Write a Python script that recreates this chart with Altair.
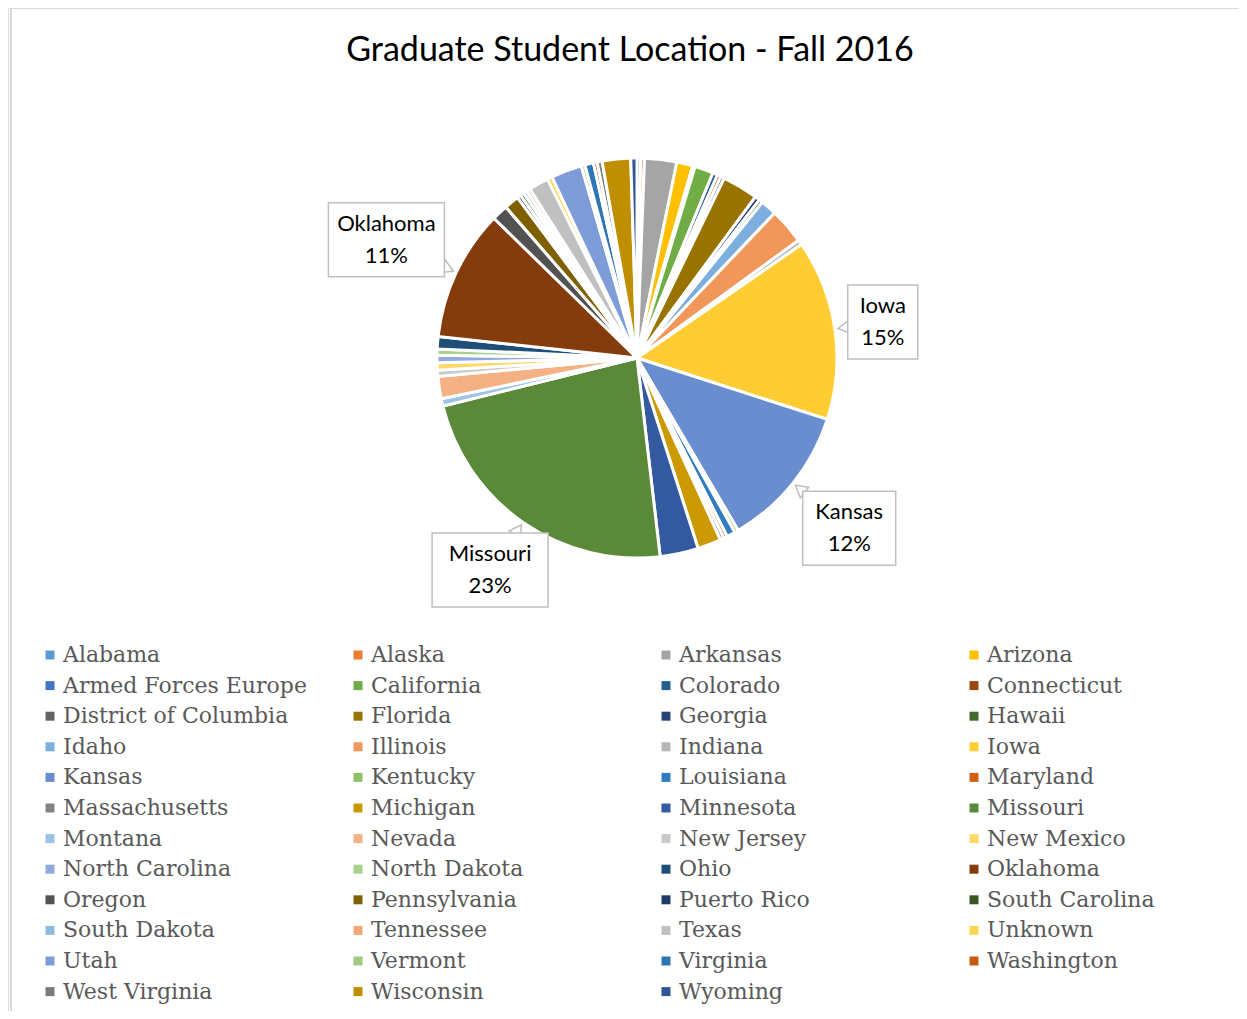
import altair as alt
import pandas as pd

states = ["Alabama", "Alaska", "Arkansas", "Arizona", "Armed Forces Europe", "California",
          "Colorado", "Connecticut", "District of Columbia", "Florida", "Georgia", "Hawaii",
          "Idaho", "Illinois", "Indiana", "Iowa", "Kansas", "Kentucky", "Louisiana", "Maryland",
          "Massachusetts", "Michigan", "Minnesota", "Missouri", "Montana", "Nevada", "New Jersey",
          "New Mexico", "North Carolina", "North Dakota", "Ohio", "Oklahoma", "Oregon",
          "Pennsylvania", "Puerto Rico", "South Carolina", "South Dakota", "Tennessee", "Texas",
          "Unknown", "Utah", "Vermont", "Virginia", "Washington", "West Virginia", "Wisconsin",
          "Wyoming"]
values = [0.3, 0.3, 2.6, 1.3, 0.2, 1.5,
          0.4, 0.3, 0.3, 2.9, 0.4, 0.3,
          1.3, 2.9, 0.4, 14.6, 11.6, 0.3, 0.7, 0.3,
          0.3, 1.9, 3.1, 23.0, 0.6, 1.8, 0.5,
          0.6, 0.6, 0.5, 1.0, 10.6, 1.3,
          1.2, 0.3, 0.3, 0.3, 0.3, 1.6,
          0.4, 2.5, 0.3, 0.7, 0.3, 0.4, 2.3,
          0.5]
colors = ["#5B9BD5", "#ED7D31", "#A5A5A5", "#FFC000", "#4472C4", "#70AD47",
          "#255E91", "#9E480E", "#636363", "#997300", "#264478", "#43682B",
          "#7CAFDD", "#F1975A", "#B7B7B7", "#FFCD33", "#698ED0", "#8CC168",
          "#327DC2", "#D26012", "#848484", "#CC9A00", "#335AA1", "#5A8A39",
          "#9DC3E6", "#F4B183", "#C9C9C9", "#FFD966", "#8FAADC", "#A9D18E",
          "#1F4E79", "#843C0C", "#525252", "#7F6000", "#203864", "#385723",
          "#8FBBE3", "#F3A574", "#C0C0C0", "#FFD54F", "#7E9CD8", "#9DCB7F",
          "#2E75B6", "#C55A11", "#7B7B7B", "#BF8F00", "#2F5597"]
title_text = "Graduate Student Location - Fall 2016"

df = pd.DataFrame({"state": states, "value": values, "idx": list(range(len(states)))})

CX, CY, R = 629, 350, 200
W, H = 1231, 1003

base = alt.Chart(df)

pie = base.mark_arc(outerRadius=R, stroke="white", strokeWidth=3).encode(
    theta=alt.Theta("value:Q", stack=True),
    color=alt.Color(
        "state:N",
        scale=alt.Scale(domain=states, range=colors),
        legend=alt.Legend(
            orient="none", legendX=31, legendY=636, direction="horizontal",
            columns=4, gridAlign="all", symbolLimit=0,
            columnPadding=40, rowPadding=8.6, symbolType="square", symbolSize=81,
            symbolStrokeWidth=0, labelFont="DejaVu Serif", labelFontSize=22,
            labelColor="#595959", labelOffset=2, labelLimit=400, title=None,
        ),
    ),
    order=alt.Order("idx:Q"),
    x=alt.value(CX),
    y=alt.value(CY),
)

lab = (
    base.transform_window(cum="sum(value)", sort=[{"field": "idx"}], frame=[None, 0])
    .transform_joinaggregate(total="sum(value)")
    .transform_calculate(
        mid="(datum.cum - datum.value/2)/datum.total*2*PI",
        pct="datum.value/datum.total",
    )
    .transform_filter("datum.pct >= 0.1")
    .transform_calculate(hw="(length(datum.state)*11.5 + 24)/2", hh="37")
    .transform_calculate(
        rr="213 + min(datum.hw/max(abs(sin(datum.mid)), 0.000001), "
           "datum.hh/max(abs(cos(datum.mid)), 0.000001))"
    )
    .transform_calculate(
        cx=f"{CX} + datum.rr*sin(datum.mid)",
        cy=f"{CY} - datum.rr*cos(datum.mid)",
        tx=f"{CX} + 209*sin(datum.mid)",
        ty=f"{CY} - 209*cos(datum.mid)",
        tang="datum.mid*180/PI + 180",
        label="[datum.state, format(datum.pct, '.0%')]",
    )
    .transform_calculate(
        bx1="datum.cx - datum.hw", bx2="datum.cx + datum.hw",
        by1="datum.cy - datum.hh", by2="datum.cy + datum.hh",
    )
)

tails = lab.mark_point(shape="triangle-up", filled=True, fill="white", stroke="#BFBFBF",
                       strokeWidth=1.5, size=180, opacity=1).encode(
    x=alt.X("tx:Q", scale=None), y=alt.Y("ty:Q", scale=None),
    angle=alt.Angle("tang:Q", scale=None),
)
boxes = lab.mark_rect(fill="white", stroke="#BFBFBF", strokeWidth=1.5).encode(
    x=alt.X("bx1:Q", scale=None), x2="bx2:Q",
    y=alt.Y("by1:Q", scale=None), y2="by2:Q",
)
texts = lab.mark_text(font="Lato", fontSize=22, lineHeight=32, color="#000000",
                      baseline="middle", align="center", dy=-16).encode(
    x=alt.X("cx:Q", scale=None), y=alt.Y("cy:Q", scale=None), text="label:N",
)

title = alt.Chart(pd.DataFrame({"t": [title_text]})).mark_text(
    font="Lato", fontSize=34, color="#000000", align="center", baseline="middle"
).encode(text="t:N", x=alt.value(622), y=alt.value(43))

frame = alt.Chart(pd.DataFrame({"t": [title_text]})).mark_rect(
    fill=None, stroke="#D9D9D9", strokeWidth=2
).encode(x=alt.value(3), x2=alt.value(1400), y=alt.value(0), y2=alt.value(1200))

chart = alt.layer(frame, pie, tails, boxes, texts, title).properties(
    width=W, height=H, autosize=alt.AutoSizeParams(type="none"), padding=0
).configure_view(stroke=None).configure(background="white")

chart.save("out.html", embed_options={"renderer": "svg", "actions": False})
